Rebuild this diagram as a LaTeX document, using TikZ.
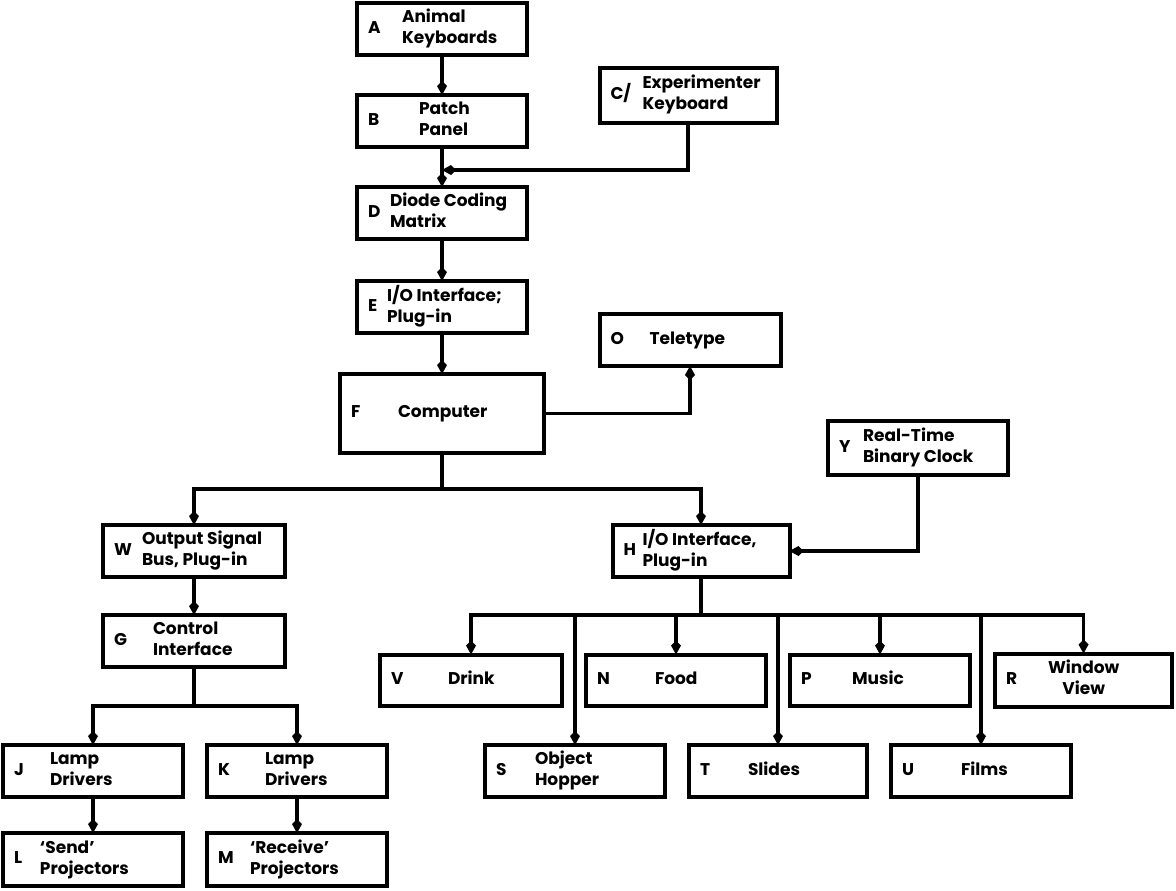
\documentclass[tikz,border=0pt]{standalone}
\usepackage{fontspec}
\setmainfont{Poppins}
\usepackage{tikz}
\usetikzlibrary{arrows.meta, positioning}

% letter, then its text block, in a box of the node's inner width
\newcommand{\entry}[4][l]{\makebox[\dimexpr\boxwd-11pt\relax][l]{%
  \makebox[#2][l]{#3}\begin{tabular}{@{}#1@{}}#4\end{tabular}}}

\begin{document}
\begin{tikzpicture}[
  x=0.5pt, y=-0.5pt,
  node distance=20pt and 12pt,
  box/.style={rectangle, draw, line width=2pt, minimum height=26pt, outer sep=0pt,
              inner xsep=5.5pt, inner ysep=1pt, font=\bfseries\fontsize{8.5}{10.5}\selectfont,
              /utils/exec={\def\boxwd{#1}}},
  box/.default=90pt,
  arrow/.style={-{Kite[length=7pt, width=5pt, inset=2.5pt]}, line width=1.6pt},
  line/.style={line width=1.6pt}
]
  \useasboundingbox (0,0) rectangle (1176,890);

  % input chain
  \node[box=85pt] (A) at (442,29) {\entry{17pt}{A}{Animal\\Keyboards}};
  \node[box=85pt, below=of A] (B) {\entry{25.5pt}{B}{Patch\\Panel}};
  \node[box=85pt, below=of B] (D) {\entry{11pt}{D}{Diode Coding\\Matrix}};
  \node[box=85pt, below=21pt of D] (E) {\entry{9.5pt}{E}{I/O Interface;\\Plug-in}};
  \node[box=102pt, minimum height=39.5pt, below=20.5pt of E] (F) {\entry{23.5pt}{F}{Computer}};
  \node[box=88.5pt, minimum height=27.5pt] (C) at (688,95) {\entry{16pt}{C/}{Experimenter\\Keyboard}};
  \node[box=90.5pt] (O) at (690,340) {\entry{19.5pt}{O}{Teletype}};
  \coordinate[below=11.5pt of B] (jct);

  % output side
  \node[box=91pt] (W) at (194,551) {\entry{14pt}{W}{Output Signal\\Bus, Plug-in}};
  \node[box=91pt, below=19pt of W] (G) {\entry{19.5pt}{G}{Control\\Interface}};
  \node[box] (J) at (93,771) {\entry{18pt}{J}{Lamp\\Drivers}};
  \node[box, right=of J] (K) {\entry{23.5pt}{K}{Lamp\\Drivers}};
  \node[box, minimum height=26.5pt, below=18pt of J] (L) {\entry{13pt}{L}{‘Send’\\Projectors}};
  \node[box, minimum height=26.5pt, below=18pt of K] (M) {\entry{16pt}{M}{‘Receive’\\Projectors}};

  % input side
  \node[box=88.5pt] (H) at (701,551) {\entry{9.5pt}{H}{I/O Interface,\\Plug-in}};
  \node[box, minimum height=27pt] (Y) at (918,448) {\entry{12pt}{Y}{Real-Time\\Binary Clock}};
  \node[box=91pt, minimum height=25.5pt] (V) at (471,680) {\entry{28.5pt}{V}{Drink}};
  \node[box, minimum height=25.5pt, right=of V] (N) {\entry{29pt}{N}{Food}};
  \node[box, minimum height=25.5pt, right=of N] (P) {\entry{25.5pt}{P}{Music}};
  \node[box=88.5pt, minimum height=26.5pt, right=12.5pt of P] (R) {\entry[c]{21pt}{R}{Window\\View}};
  \node[box] (S) at (575,771) {\entry{19.5pt}{S}{Object\\Hopper}};
  \node[box=89pt, right=of S] (T) {\entry{24pt}{T}{Slides}};
  \node[box, right=of T] (U) {\entry{29.5pt}{U}{Films}};

  \coordinate[below=18pt of F] (fbus);
  \coordinate[below=19.5pt of G] (gbus);
  \coordinate[below=19pt of H] (hbus);

  \draw[arrow] (A) -- (B);
  \draw[arrow] (B) -- (D);
  \draw[arrow] (C.south) |- (jct);
  \draw[arrow] (D) -- (E);
  \draw[arrow] (E) -- (F);
  \draw[arrow] (F.east) -| (O.south);
  \draw[line] (F.south) -- (fbus);
  \draw[arrow] (fbus) -| (W.north);
  \draw[arrow] (fbus) -| (H.north);
  \draw[arrow] (W) -- (G);
  \draw[line] (G.south) -- (gbus);
  \draw[arrow] (gbus) -| (J.north);
  \draw[arrow] (gbus) -| (K.north);
  \draw[arrow] (J) -- (L);
  \draw[arrow] (K) -- (M);
  \draw[arrow] (Y.south) |- (H.east);
  \draw[line] (H.south) -- (hbus);
  \foreach \n in {V,S,N,T,P,U,R}
    \draw[arrow] (hbus) -| (\n.north);
\end{tikzpicture}
\end{document}
